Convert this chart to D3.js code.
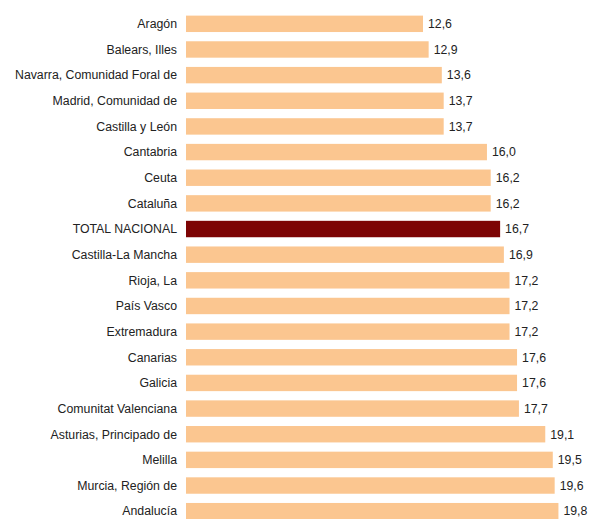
<!DOCTYPE html>
<html>
<head>
<meta charset="utf-8">
<script src="https://cdn.jsdelivr.net/npm/d3@7"></script>
<style>
  body { margin: 0; background: #fff; }
  svg text { font-family: "Liberation Sans", Arial, sans-serif; font-size: 12.3px; fill: #222; }
</style>
</head>
<body>
<div id="chart"></div>
<script>
// regions, sorted by value
const regions = [
    'Aragón', 'Balears, Illes', 'Navarra, Comunidad Foral de', 'Madrid, Comunidad de',
    'Castilla y León', 'Cantabria', 'Ceuta', 'Cataluña', 'TOTAL NACIONAL',
    'Castilla-La Mancha', 'Rioja, La', 'País Vasco', 'Extremadura', 'Canarias',
    'Galicia', 'Comunitat Valenciana', 'Asturias, Principado de', 'Melilla',
    'Murcia, Región de', 'Andalucía'
];
const values = [12.6, 12.9, 13.6, 13.7, 13.7, 16.0, 16.2, 16.2, 16.7, 16.9,
    17.2, 17.2, 17.2, 17.6, 17.6, 17.7, 19.1, 19.5, 19.6, 19.8];
const totalLabel = 'TOTAL NACIONAL';

const width = 589, height = 519;

const svg = d3.select('#chart')
    .append('svg')
    .attr('width', width)
    .attr('height', height);

const x = d3.scaleLinear()
    .domain([0, 21])
    .range([186, 581]);

const y = d3.scaleBand()
    .domain(regions)
    .range([11, 524])
    .paddingInner(0.36)
    .paddingOuter(0.18);

const fmt = v => d3.format('.1f')(v).replace('.', ',');

const rows = regions.map((r, i) => ({ region: r, value: values[i] }));

// bars
svg.selectAll('rect.bar')
    .data(rows)
    .enter()
    .append('rect')
    .attr('class', 'bar')
    .attr('x', x(0))
    .attr('y', d => y(d.region))
    .attr('width', d => x(d.value) - x(0))
    .attr('height', y.bandwidth())
    .style('fill', d => d.region === totalLabel ? '#7d0404' : '#fbc690');

// category labels
svg.selectAll('text.cat')
    .data(rows)
    .enter()
    .append('text')
    .attr('class', 'cat')
    .attr('x', x(0) - 9)
    .attr('y', d => y(d.region) + y.bandwidth() / 2)
    .attr('dy', '0.35em')
    .attr('text-anchor', 'end')
    .text(d => d.region);

// value labels
svg.selectAll('text.val')
    .data(rows)
    .enter()
    .append('text')
    .attr('class', 'val')
    .attr('x', d => x(d.value) + 5)
    .attr('y', d => y(d.region) + y.bandwidth() / 2)
    .attr('dy', '0.35em')
    .text(d => fmt(d.value));
</script>
</body>
</html>
